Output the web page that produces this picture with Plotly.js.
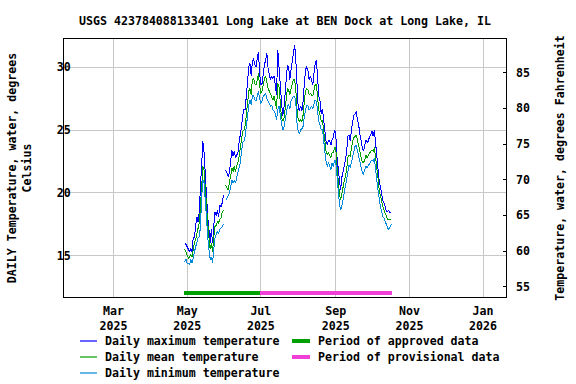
<!DOCTYPE html>
<html>
<head>
<meta charset="utf-8">
<script src="https://cdn.plot.ly/plotly-3.0.1.min.js"></script>
<style>
html,body{margin:0;padding:0;background:#fff;}
#chart{width:576px;height:384px;}
#chart .scatterlayer path.js-line{shape-rendering:crispEdges;}
</style>
</head>
<body>
<div id="chart"></div>
<script>
// ---- data (daily values, degrees Celsius), first day 2025-04-29 ----
var startDate = '2025-04-29';
var maxTemp = [16.0,15.9,15.7,15.5,15.3,15.6,15.3,16.4,16.4,17.3,
18.1,17.7,18.5,20.5,22.1,24.1,23.2,21.3,19.2,18.1,
17.1,16.0,17.1,16.0,17.3,18.5,18.2,18.6,18.1,19.0,
18.9,19.2,19.8,null,21.8,21.6,21.3,21.6,22.4,23.4,
22.9,23.3,22.8,23.0,23.2,24.0,24.5,25.3,26.1,26.7,
26.6,27.8,29.0,30.05,30.3,29.3,30.5,30.7,30.2,30.05,
30.7,31.2,29.5,28.6,28.7,29.5,30.2,30.6,31.1,29.9,
29.3,29.0,29.3,29.1,29.3,28.7,27.8,31.4,30.05,28.5,
26.9,26.1,26.6,27.9,29.5,30.2,30.05,29.0,29.8,30.6,
31.4,31.8,30.5,27.9,26.7,26.6,26.9,26.5,27.3,28.7,
29.8,30.05,29.7,29.0,29.3,29.0,28.6,29.5,30.3,30.6,
29.0,27.7,27.3,26.3,26.7,25.8,24.6,24.1,23.8,24.2,
24.1,23.8,24.2,24.4,25.0,24.7,22.9,21.8,20.8,20.2,
21.2,21.6,22.1,22.6,23.2,24.5,24.6,24.1,25.0,25.7,
26.2,26.3,26.5,25.8,25.4,24.7,24.1,23.6,23.3,23.8,
24.2,24.0,24.1,24.5,24.6,24.9,24.5,25.0,24.0,22.9,
21.8,20.9,20.5,19.8,19.4,19.2,18.8,18.5,18.5,18.6,
18.4,18.4];
var meanTemp = [15.5,15.3,15.1,14.8,14.9,15.1,14.9,15.6,16.0,16.3,
16.8,17.1,17.6,18.9,21.0,22.1,21.8,20.2,18.4,17.6,
16.5,15.5,16.0,15.3,16.5,17.3,17.4,17.7,17.6,17.9,
18.0,18.5,18.6,null,20.6,20.4,20.2,20.9,21.3,22.0,
21.7,22.1,21.7,22.1,22.4,22.9,23.6,24.2,24.9,25.0,
25.4,26.2,27.3,28.1,28.3,27.8,29.0,29.1,28.7,28.6,
29.0,29.5,28.5,27.9,28.1,28.7,29.1,29.3,28.7,28.3,
28.1,27.9,27.7,27.4,27.7,27.3,26.7,28.7,28.5,27.3,
26.1,25.7,25.8,26.6,27.7,28.3,28.2,27.8,28.3,28.7,
29.0,29.0,28.1,26.6,25.8,25.7,25.8,25.7,26.2,27.3,
28.1,28.3,28.2,27.8,27.9,27.8,27.7,28.2,28.6,28.6,
27.5,26.6,26.2,25.7,25.8,25.0,24.0,23.3,23.0,23.2,
23.0,22.8,23.2,23.2,23.6,23.6,22.1,20.9,20.0,19.4,
20.0,20.5,20.9,21.3,21.8,22.8,23.0,22.9,23.6,24.1,
24.4,24.5,24.6,24.2,23.8,23.3,22.8,22.4,22.4,22.6,
23.0,22.8,23.0,23.2,23.3,23.4,23.3,23.6,22.9,21.8,
21.2,20.2,19.7,19.2,18.9,18.6,18.4,18.1,17.9,17.9,
17.9,17.9];
var minTemp = [14.5,14.7,14.4,14.4,14.3,14.7,14.4,14.9,15.5,15.7,
16.0,16.4,16.5,17.3,19.7,21.0,20.8,19.2,17.3,16.5,
15.5,14.7,14.9,14.4,15.5,16.4,16.7,16.9,16.8,17.1,
17.2,17.3,17.5,null,19.4,19.6,19.7,20.0,20.5,21.0,
20.8,21.0,20.8,21.2,21.6,21.8,22.4,23.3,24.0,24.1,
24.5,25.3,26.2,27.0,27.4,27.0,27.7,27.8,27.4,27.3,
27.7,28.1,27.5,27.1,27.3,27.7,27.8,27.9,27.5,27.3,
27.0,26.9,27.0,26.6,26.5,26.3,25.8,26.6,26.9,26.2,
25.3,25.0,25.1,25.7,26.3,26.9,27.0,26.7,27.3,27.5,
27.7,27.7,27.1,25.5,24.9,24.7,25.0,25.1,25.3,26.1,
26.7,27.0,26.9,26.6,26.7,26.9,26.7,27.1,27.4,27.3,
26.3,25.7,25.4,25.0,25.1,24.4,23.3,22.5,22.1,22.4,
22.2,21.8,22.4,22.1,22.6,22.5,21.3,20.0,19.2,18.6,
18.9,19.4,20.0,20.5,20.9,21.8,22.2,22.0,22.5,23.0,
23.4,23.7,23.8,23.4,23.0,22.5,22.0,21.6,21.5,21.8,
22.1,22.0,22.2,22.4,22.5,22.6,22.5,22.8,22.1,21.0,
20.2,19.4,18.9,18.5,18.1,18.0,17.7,17.5,17.2,17.1,
17.3,17.5];

var approvedPeriod = ['2025-04-28', '2025-06-30'];
var provisionalPeriod = ['2025-06-30', '2025-10-18'];
var periodLevel = 12.0;

var xTickVals = ['2025-03-01','2025-05-01','2025-07-01','2025-09-01','2025-11-01','2026-01-01'];
var xTickText = ['Mar<br>2025','May<br>2025','Jul<br>2025','Sep<br>2025','Nov<br>2025','Jan<br>2026'];
var yTickVals = [15, 20, 25, 30];
var y2TickVals = [55, 60, 65, 70, 75, 80, 85];

var titleText = 'USGS 423784088133401 Long Lake at BEN Dock at Long Lake, IL';
var yTitle = 'DAILY Temperature, water, degrees<br>Celsius';
var y2Title = 'Temperature, water, degrees Fahrenheit';
var legendNames = ['Daily maximum temperature','Daily mean temperature','Daily minimum temperature',
                   'Period of approved data','Period of provisional data'];

// build daily dates
function buildDates(start, n) {
  var out = [];
  var p = start.split('-');
  var d0 = Date.UTC(+p[0], +p[1]-1, +p[2]);
  for (var i = 0; i < n; i++) {
    var d = new Date(d0 + i*86400000);
    out.push(d.toISOString().slice(0,10));
  }
  return out;
}
var dates = buildDates(startDate, maxTemp.length);

var FONT = {family: '"DejaVu Sans Mono", monospace', size: 11.6, color: '#000', weight: 'bold'};
var COLORS = ['#0000ff', '#00a000', '#0088dd', '#00a000', '#f040d8'];
var WIDTHS = [1, 1, 1, 4, 4];

var traces = [
  {x: dates, y: maxTemp, type: 'scatter', mode: 'lines', name: legendNames[0],
   line: {color: COLORS[0], width: WIDTHS[0]}, connectgaps: false, hoverinfo: 'skip'},
  {x: dates, y: meanTemp, type: 'scatter', mode: 'lines', name: legendNames[1],
   line: {color: COLORS[1], width: WIDTHS[1]}, connectgaps: false, hoverinfo: 'skip'},
  {x: dates, y: minTemp, type: 'scatter', mode: 'lines', name: legendNames[2],
   line: {color: COLORS[2], width: WIDTHS[2]}, connectgaps: false, hoverinfo: 'skip'},
  {x: approvedPeriod, y: [periodLevel, periodLevel], type: 'scatter', mode: 'lines', name: legendNames[3],
   line: {color: COLORS[3], width: WIDTHS[3]}, hoverinfo: 'skip'},
  {x: provisionalPeriod, y: [periodLevel, periodLevel], type: 'scatter', mode: 'lines', name: legendNames[4],
   line: {color: COLORS[4], width: WIDTHS[4]}, hoverinfo: 'skip'},
  {x: [dates[0]], y: [60], yaxis: 'y2', type: 'scatter', mode: 'markers', showlegend: false,
   marker: {opacity: 0}, hoverinfo: 'skip'}
];

// ---- legend drawn below the plot (two columns) ----
var M = {l: 64, r: 70, t: 39, b: 87};
var W = 576, H = 384;
function pxX(px) { return (px - M.l) / (W - M.l - M.r); }
function pxY(py) { return (H - M.b - py) / (H - M.t - M.b); }
var legendCols = [{line0: 80, line1: 97, text: 103}, {line0: 292, line1: 310, text: 316}];
var legendRows = [341, 357, 373];
var legendSlots = [[0,0],[0,1],[0,2],[1,0],[1,1]];
var shapes = [], annotations = [];
legendNames.forEach(function(name, i) {
  var c = legendCols[legendSlots[i][0]], r = legendRows[legendSlots[i][1]];
  shapes.push({type: 'line', xref: 'paper', yref: 'paper',
    x0: pxX(c.line0), x1: pxX(c.line1), y0: pxY(r), y1: pxY(r),
    line: {color: COLORS[i], width: WIDTHS[i] === 1 ? 1.2 : 4}});
  annotations.push({xref: 'paper', yref: 'paper', x: pxX(c.text), y: pxY(r),
    xanchor: 'left', yanchor: 'middle', showarrow: false, text: name, font: FONT});
});

var layout = {
  width: W, height: H,
  margin: {l: M.l, r: M.r, t: M.t, b: M.b, pad: 0, autoexpand: false},
  paper_bgcolor: '#fff', plot_bgcolor: '#fff',
  font: FONT,
  showlegend: false,
  title: {text: titleText, font: FONT, x: 0.5, xref: 'paper', y: 1 - 21/384, yref: 'container', yanchor: 'middle'},
  xaxis: {
    type: 'date', range: ['2025-01-19', '2026-01-20'],
    tickmode: 'array', tickvals: xTickVals, ticktext: xTickText,
    showgrid: true, gridcolor: '#c8c8c8', gridwidth: 1,
    showline: true, linecolor: '#000', linewidth: 1, mirror: true,
    ticks: '', tickfont: FONT, zeroline: false, ticklabelstandoff: 3
  },
  yaxis: {
    range: [11.7, 32.25], tickmode: 'array', tickvals: yTickVals,
    showgrid: true, gridcolor: '#c8c8c8', gridwidth: 1,
    showline: true, linecolor: '#000', linewidth: 1, mirror: true,
    ticks: '', ticklen: 0, tickfont: FONT, zeroline: false, ticklabelstandoff: -10,
    title: {text: yTitle, font: FONT, standoff: 22}
  },
  yaxis2: {
    overlaying: 'y', side: 'right', range: [53.56, 89.72],
    tickmode: 'array', tickvals: y2TickVals,
    showgrid: false, zeroline: false, showline: false,
    ticks: 'inside', ticklen: 3, tickcolor: '#000', tickwidth: 1,
    tickfont: FONT, ticklabelstandoff: 9,
    title: {text: y2Title, font: FONT, standoff: 26}
  },
  shapes: shapes,
  annotations: annotations
};

Plotly.newPlot('chart', traces, layout, {staticPlot: true, displayModeBar: false});
</script>
</body>
</html>
